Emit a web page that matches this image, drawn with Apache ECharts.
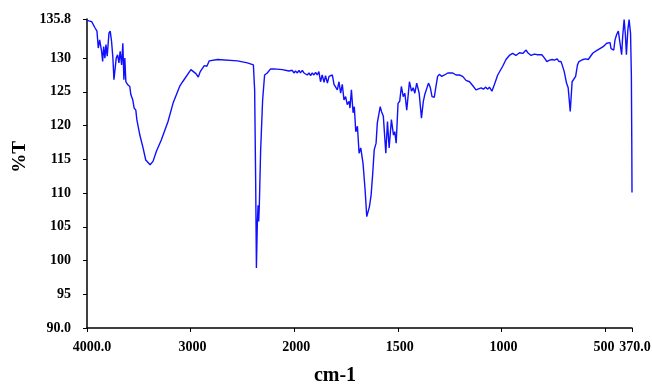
<!DOCTYPE html>
<html>
<head>
<meta charset="utf-8">
<script src="https://cdn.jsdelivr.net/npm/echarts@6/dist/echarts.min.js"></script>
<style>
  html, body { margin: 0; padding: 0; background: #fff; }
  #chart { width: 652px; height: 384px; }
</style>
</head>
<body>
<div id="chart"></div>
<script>
// wavenumber (cm-1)
const wavenumber = [
  4000,3955,3923,3904,3891,3878,3859,3849,3839,3827,3817,3805,3788,3776,3763,3750,3740,3731,3718,3705,
  3692,3680,3666,3654,3644,3635,3625,3609,3587,3577,3558,3545,3529,3519,3490,3459,3433,3391,3363,3330,
  3282,3218,3170,3106,
  3077,2997,2949,2926,2907,2868,2843,2820,2740,2548,2452,2394,2382,2372,2365,2356,2349,2343,2337,2324,
  2305,2286,2260,2228,2195,
  2115,2051,2019,2003,1994,1985,1977,1970,1961,1953,
  1945,1937,1929,1921,1913,1905,1897,1889,1881,1873,
  1865,1856,1849,1840,1832,1824,1816,1808,1800,1792,
  1784,1776,1768,1760,1752,1744,1735,1731,1724,1716,
  1710,1703,1695,1687,1679,1668,1658,1650,1637,1629,
  1621,1614,1605,1599,1585,1579,1570,1558,1550,1542,
  1531,1521,1515,1508,1499,1491,1483,1474,1466,1457,
  1444,1434,1426,1418,1409,1397,1386,1377,1370,1361,
  1352,1343,1335,1324,1316,1308,1300,1288,1275,1259,
  1235,1219,1203,1187,1171,1154,1138,1123,1114,1098,
  1087,1077,1066,1058,1046,1034,1018,994,978,962,
  946,930,913,897,881,873,857,841,825,805,
  792,781,768,755,744,731,723,713,707,697,
  686,678,668,659,650,642,633,626,617,606,
  594,581,573,565,557,549,541,533,525,516,
  509,501,492,484,476,471,465,458,452,444,
  436,428,420,415,408,402,397,390,384,377,
  373,371,370
]

// %T
const transmittance = [
  135.6,135.4,134.5,134.0,131.5,132.7,131.0,129.5,131.7,130.0,132.0,130.3,133.7,134.0,132.5,130.0,126.8,126.8,130.0,130.5,
  129.3,131.0,129.0,132.2,126.8,130.0,126.5,126.1,125.8,124.6,123.8,122.6,122.3,120.9,118.6,116.7,114.9,114.2,114.7,116.2,
  117.9,120.6,123.3,125.8,
  126.5,128.3,127.7,127.2,128.0,128.9,128.8,129.6,129.8,129.6,129.3,129.0,125.3,111.5,98.9,105.6,108.2,105.8,108.0,116.4,
  123.8,127.5,127.8,128.4,128.4,
  128.3,128.1,128.2,127.8,128.1,127.8,128.2,127.8,128.2,127.8,
  128.0,127.5,127.8,127.4,127.8,127.5,127.9,127.5,128.0,126.5,
  127.5,126.4,127.4,126.3,127.3,127.5,127.5,126.1,126.3,125.3,
  126.5,124.8,126.1,123.8,124.3,123.1,123.6,122.6,125.3,121.9,
  122.8,119.1,119.9,115.9,116.7,114.4,110.5,106.5,108.0,109.7,
  113.0,116.4,117.4,120.4,122.8,122.1,121.4,115.9,120.6,116.7,
  120.9,118.6,119.1,117.4,123.3,123.6,125.8,124.3,124.8,122.3,
  126.5,125.1,125.6,124.8,126.3,124.8,121.1,123.6,124.6,124.8,
  126.3,125.6,124.3,124.2,125.8,127.3,127.6,127.3,127.5,127.8,
  127.8,127.5,127.5,127.3,126.7,126.5,125.9,125.3,125.2,125.6,
  125.4,125.7,125.4,125.7,125.1,126.1,127.5,128.8,129.8,130.4,
  130.7,130.4,130.8,130.7,131.2,130.8,130.4,130.6,130.5,130.5,
  130.0,129.5,129.7,129.8,129.7,129.9,129.5,129.5,129.0,128.0,
  126.3,125.6,122.1,126.5,126.3,127.3,129.0,129.5,129.3,129.8,
  129.9,129.8,130.0,130.5,130.8,130.7,131.1,131.0,131.4,131.2,
  131.7,131.6,132.2,132.0,132.3,131.4,131.6,131.2,132.7,133.5,
  134.0,134.2,130.5,133.2,135.7,133.5,130.5,134.2,135.7,133.7,
  127.3,117.4,110.1
]

const xTickValues = [4000, 3000, 2000, 1500, 1000, 500, 370]
const xTickLabels = ['4000.0', '3000', '2000', '1500', '1000', '500', '370.0']
const yTickValues = [90, 95, 100, 105, 110, 115, 120, 125, 130, 135.8]
const yTickLabels = ['90.0', '95', '100', '105', '110', '115', '120', '125', '130', '135.8']

// the instrument halves the scale above 2000 cm-1
function toAxis(wn) {
  return wn >= 2000 ? (4000 - wn) / 2 : 1000 + (2000 - wn)
}

const xAxisValues = xTickValues.map(toAxis)
const labelFont = { fontFamily: 'Liberation Serif', fontWeight: 'bold', fontSize: 14, color: '#000' }

// small nudges so the x labels sit like the original (first and last ones pushed right)
const xRich = {
  first: { ...labelFont, padding: [0, 0, 0, 10] },
  mid: { ...labelFont, padding: [0, 0, 0, 4] },
  five: { ...labelFont, padding: [0, 2, 0, 0] },
  last: { ...labelFont, padding: [0, 0, 0, 6] }
}

const chart = echarts.init(document.getElementById('chart'))

chart.setOption({
  animation: false,
  grid: { left: 87, right: 20, top: 19, bottom: 56, outerBoundsMode: 'none' },
  xAxis: {
    type: 'value',
    min: toAxis(4000),
    max: toAxis(370),
    axisLine: { lineStyle: { color: '#000', width: 1.5 } },
    axisTick: { length: 4, lineStyle: { color: '#000' }, customValues: xAxisValues },
    splitLine: { show: false },
    axisLabel: {
      ...labelFont,
      margin: 12,
      showMinLabel: true,
      showMaxLabel: true,
      customValues: xAxisValues,
      rich: xRich,
      formatter: v => {
        const i = xAxisValues.findIndex(a => Math.abs(a - v) < 0.01)
        if (i < 0) return ''
        const key = i === 0 ? 'first' : i === xTickLabels.length - 1 ? 'last' : i === xTickLabels.length - 2 ? 'five' : 'mid'
        return '{' + key + '|' + xTickLabels[i] + '}'
      }
    }
  },
  yAxis: {
    type: 'value',
    min: 90,
    max: 135.8,
    axisLine: { show: true, lineStyle: { color: '#000', width: 1.5 } },
    axisTick: { show: true, length: 4, lineStyle: { color: '#000' }, customValues: yTickValues },
    splitLine: { show: false },
    axisLabel: {
      ...labelFont,
      margin: 16,
      showMinLabel: true,
      showMaxLabel: true,
      customValues: yTickValues,
      formatter: v => {
        const i = yTickValues.findIndex(a => Math.abs(a - v) < 0.01)
        return i >= 0 ? yTickLabels[i] : ''
      }
    }
  },
  graphic: [
    {
      type: 'text',
      x: 20, y: 157,
      rotation: Math.PI / 2,
      style: {
        text: '%T',
        font: 'bold 19px "Liberation Serif"',
        fill: '#000',
        align: 'center',
        verticalAlign: 'middle'
      }
    },
    {
      type: 'text',
      x: 335, y: 376,
      style: {
        text: 'cm-1',
        font: 'bold 20px "Liberation Serif"',
        fill: '#000',
        align: 'center',
        verticalAlign: 'middle'
      }
    }
  ],
  series: [
    {
      type: 'line',
      data: wavenumber.map((w, i) => [toAxis(w), transmittance[i]]),
      showSymbol: false,
      lineStyle: { color: '#1010ff', width: 1.4 },
      silent: true
    }
  ]
})
</script>
</body>
</html>
